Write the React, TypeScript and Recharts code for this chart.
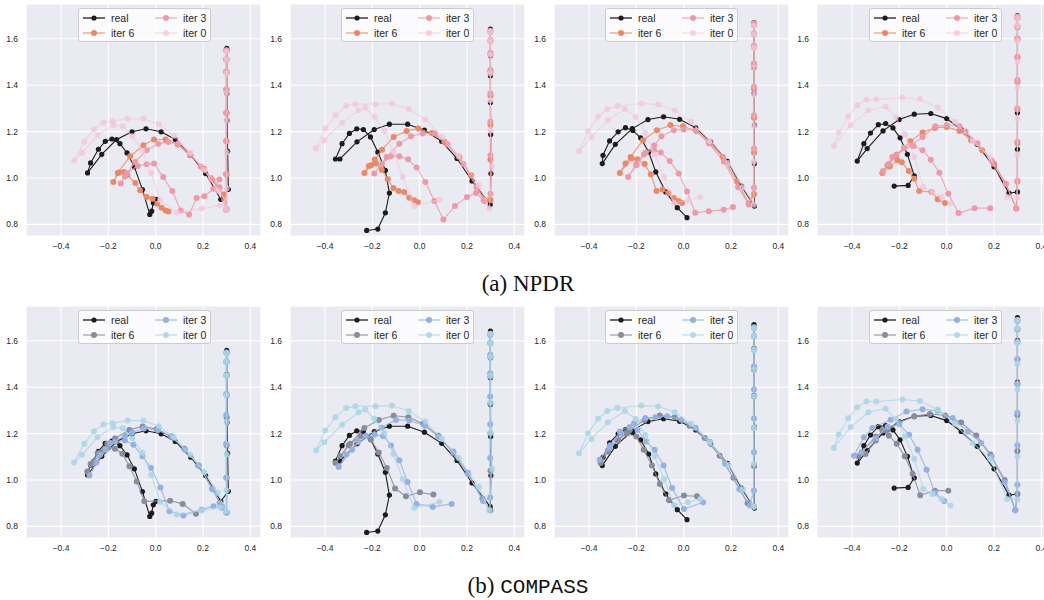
import { CartesianGrid, Scatter, ScatterChart, XAxis, YAxis } from "recharts";

type P = [number, number];

const X_TICKS = [-0.4, -0.2, 0, 0.2, 0.4];
const Y_TICKS = [0.8, 1.0, 1.2, 1.4, 1.6];

// real trajectory, one per column (same in both rows)
const REAL_1: P[] = [
  [0.3, 1.559], [0.3, 1.551], [0.3, 1.511], [0.3, 1.455], [0.301, 1.364], [0.302, 1.249], [0.304, 1.115], [0.307, 0.951],
  [0.275, 0.908], [0.211, 1.019], [0.148, 1.098], [0.083, 1.166], [0.023, 1.199], [-0.041, 1.212], [-0.1, 1.199], [-0.165, 1.166], [-0.228, 1.102], [-0.288, 1.022],
  [-0.275, 1.065], [-0.242, 1.124], [-0.213, 1.158], [-0.185, 1.168], [-0.151, 1.148], [-0.121, 1.108], [-0.09, 1.048], [-0.056, 0.95], [-0.025, 0.843], [-0.017, 0.857], [-0.01, 0.893], [0.001, 0.908],
];
const REAL_2: P[] = [
  [0.299, 1.642], [0.299, 1.63], [0.299, 1.527], [0.299, 1.441], [0.299, 1.325], [0.3, 1.187], [0.301, 1.019], [0.298, 0.885],
  [0.221, 0.987], [0.158, 1.084], [0.093, 1.158], [0.02, 1.206], [-0.051, 1.232], [-0.128, 1.232], [-0.192, 1.209], [-0.265, 1.156], [-0.337, 1.082], [-0.356, 1.082],
  [-0.328, 1.148], [-0.297, 1.192], [-0.266, 1.212], [-0.238, 1.209], [-0.208, 1.177], [-0.177, 1.112], [-0.145, 1.033], [-0.128, 0.935], [-0.145, 0.85], [-0.177, 0.78], [-0.224, 0.774],
];
const REAL_3: P[] = [
  [0.297, 1.67], [0.297, 1.66], [0.297, 1.566], [0.297, 1.475], [0.297, 1.364], [0.299, 1.228], [0.299, 1.062], [0.299, 0.879],
  [0.244, 0.965], [0.185, 1.072], [0.114, 1.156], [0.051, 1.216], [-0.017, 1.253], [-0.085, 1.264], [-0.151, 1.252], [-0.217, 1.213], [-0.289, 1.145], [-0.344, 1.062],
  [-0.341, 1.098], [-0.313, 1.16], [-0.277, 1.199], [-0.246, 1.217], [-0.215, 1.205], [-0.182, 1.173], [-0.148, 1.112], [-0.118, 1.026], [-0.076, 0.94], [-0.027, 0.872], [0.014, 0.829],
];
const REAL_4: P[] = [
  [0.299, 1.7], [0.299, 1.691], [0.299, 1.602], [0.299, 1.52], [0.299, 1.422], [0.299, 1.281], [0.299, 1.124], [0.299, 0.94],
  [0.263, 0.935], [0.2, 1.048], [0.129, 1.145], [0.061, 1.209], [0.0, 1.256], [-0.067, 1.278], [-0.137, 1.275], [-0.201, 1.252], [-0.269, 1.203], [-0.336, 1.127], [-0.378, 1.073],
  [-0.35, 1.148], [-0.322, 1.194], [-0.289, 1.23], [-0.258, 1.235], [-0.227, 1.216], [-0.197, 1.173], [-0.166, 1.102], [-0.137, 1.009], [-0.163, 0.968], [-0.222, 0.965],
];

// iter 0 (initial simulator), shared by both methods
const ITER0_1: P[] = [
  [0.3, 1.545], [0.3, 1.51], [0.3, 1.45], [0.3, 1.365], [0.3, 1.25], [0.3, 1.11], [0.3, 0.955], [0.298, 0.865],
  [0.262, 0.945], [0.205, 1.035], [0.146, 1.109], [0.077, 1.182], [0.013, 1.232], [-0.052, 1.256], [-0.118, 1.256], [-0.182, 1.245], [-0.221, 1.239], [-0.261, 1.21], [-0.302, 1.156], [-0.345, 1.075],
  [-0.311, 1.109], [-0.246, 1.184], [-0.179, 1.228], [-0.139, 1.223], [-0.099, 1.18], [-0.056, 1.117], [-0.019, 1.022], [0.019, 0.905], [0.089, 0.851], [0.195, 0.868], [0.272, 0.882],
];
const ITER0_2: P[] = [
  [0.299, 1.63], [0.299, 1.59], [0.299, 1.53], [0.299, 1.45], [0.299, 1.335], [0.299, 1.205], [0.306, 1.048], [0.294, 0.868],
  [0.25, 0.97], [0.165, 1.095], [0.094, 1.177], [0.024, 1.252], [-0.046, 1.297], [-0.117, 1.321], [-0.187, 1.318], [-0.272, 1.318], [-0.311, 1.31], [-0.356, 1.271], [-0.399, 1.213], [-0.438, 1.127],
  [-0.403, 1.163], [-0.328, 1.238], [-0.258, 1.292], [-0.23, 1.304], [-0.192, 1.264], [-0.149, 1.203], [-0.111, 1.112], [-0.072, 1.004], [-0.023, 0.879], [0.083, 0.906],
];
const ITER0_3: P[] = [
  [0.297, 1.655], [0.297, 1.62], [0.297, 1.56], [0.297, 1.475], [0.297, 1.36], [0.297, 1.225], [0.297, 1.07], [0.297, 0.885],
  [0.25, 0.96], [0.19, 1.065], [0.11, 1.16], [0.032, 1.242], [-0.038, 1.292], [-0.108, 1.317], [-0.179, 1.321], [-0.28, 1.31], [-0.323, 1.297], [-0.362, 1.264], [-0.404, 1.202], [-0.442, 1.115],
  [-0.39, 1.177], [-0.32, 1.249], [-0.249, 1.297], [-0.203, 1.264], [-0.162, 1.194], [-0.123, 1.102], [-0.083, 1.004], [-0.041, 0.892], [0.018, 0.904], [0.07, 0.918],
];
const ITER0_4: P[] = [
  [0.299, 1.69], [0.299, 1.655], [0.299, 1.59], [0.299, 1.5], [0.299, 1.39], [0.299, 1.255], [0.299, 1.1], [0.299, 0.915],
  [0.256, 0.918], [0.184, 1.09], [0.11, 1.16], [0.035, 1.242], [-0.038, 1.304], [-0.113, 1.34], [-0.187, 1.347], [-0.297, 1.338], [-0.339, 1.338], [-0.378, 1.314], [-0.416, 1.266], [-0.456, 1.196], [-0.477, 1.138],
  [-0.406, 1.228], [-0.331, 1.292], [-0.258, 1.307], [-0.215, 1.261], [-0.176, 1.189], [-0.137, 1.091], [-0.099, 0.961], [-0.06, 0.94], [-0.021, 0.918], [0.016, 0.89],
];

// NPDR iterations
const NPDR6_1: P[] = [
  [0.3, 1.55], [0.3, 1.51], [0.3, 1.455], [0.3, 1.38], [0.3, 1.28], [0.3, 1.16], [0.3, 1.015], [0.3, 0.865],
  [0.289, 0.929], [0.239, 0.99], [0.204, 1.04], [0.145, 1.098], [0.093, 1.144], [0.042, 1.166], [-0.007, 1.166], [-0.052, 1.141], [-0.108, 1.094], [-0.16, 1.022], [-0.179, 0.983],
  [-0.155, 1.024], [-0.134, 1.026], [-0.12, 1.014], [-0.086, 0.978], [-0.066, 0.947], [-0.038, 0.918], [-0.013, 0.911], [0.007, 0.889], [0.025, 0.872], [0.042, 0.86], [0.054, 0.856],
];
const NPDR3_1: P[] = [
  [0.297, 1.551], [0.297, 1.511], [0.297, 1.458], [0.297, 1.382], [0.297, 1.281], [0.297, 1.16], [0.297, 1.016], [0.297, 0.863],
  [0.27, 0.96], [0.234, 1.0], [0.19, 1.05], [0.145, 1.105], [0.094, 1.148], [0.054, 1.155], [0.011, 1.148], [-0.038, 1.12], [-0.087, 1.069], [-0.13, 1.007], [-0.148, 0.976],
  [-0.122, 1.02], [-0.076, 1.052], [-0.038, 1.059], [-0.007, 1.062], [0.032, 1.004], [0.07, 0.944], [0.106, 0.86], [0.141, 0.843], [0.173, 0.914], [0.206, 0.921], [0.244, 0.954], [0.269, 0.993],
];
const NPDR6_2: P[] = [
  [0.299, 1.63], [0.299, 1.59], [0.299, 1.535], [0.299, 1.46], [0.299, 1.355], [0.299, 1.23], [0.299, 1.08], [0.299, 0.905],
  [0.273, 0.904], [0.217, 1.012], [0.168, 1.091], [0.104, 1.156], [0.052, 1.194], [-0.006, 1.213], [-0.055, 1.203], [-0.11, 1.177], [-0.159, 1.122], [-0.19, 1.08], [-0.215, 1.052], [-0.234, 1.022],
  [-0.205, 1.055], [-0.185, 1.062], [-0.16, 1.035], [-0.135, 0.995], [-0.111, 0.957], [-0.089, 0.944], [-0.066, 0.94], [-0.044, 0.915], [-0.023, 0.904], [-0.008, 0.896],
];
const NPDR3_2: P[] = [
  [0.299, 1.635], [0.299, 1.595], [0.299, 1.54], [0.299, 1.465], [0.299, 1.364], [0.299, 1.242], [0.299, 1.098], [0.299, 0.932],
  [0.275, 0.9], [0.24, 0.96], [0.185, 1.06], [0.118, 1.145], [0.065, 1.192], [0.013, 1.192], [-0.037, 1.18], [-0.086, 1.148], [-0.14, 1.09], [-0.192, 1.019],
  [-0.16, 1.06], [-0.121, 1.095], [-0.086, 1.094], [-0.049, 1.081], [-0.013, 1.045], [0.024, 0.983], [0.062, 0.901], [0.1, 0.821], [0.149, 0.879], [0.2, 0.918], [0.238, 0.935], [0.27, 0.904],
];
const NPDR6_3: P[] = [
  [0.297, 1.66], [0.297, 1.62], [0.297, 1.565], [0.297, 1.49], [0.297, 1.385], [0.297, 1.26], [0.297, 1.11], [0.297, 0.93],
  [0.275, 0.89], [0.225, 0.985], [0.165, 1.091], [0.11, 1.15], [0.054, 1.203], [-0.003, 1.223], [-0.056, 1.228], [-0.113, 1.206], [-0.172, 1.163], [-0.224, 1.091], [-0.246, 1.062], [-0.27, 1.022],
  [-0.22, 1.085], [-0.196, 1.081], [-0.165, 1.06], [-0.139, 1.016], [-0.115, 0.944], [-0.09, 0.95], [-0.065, 0.935], [-0.042, 0.914], [-0.021, 0.901], [-0.007, 0.892],
];
const NPDR3_3: P[] = [
  [0.297, 1.667], [0.297, 1.623], [0.297, 1.57], [0.297, 1.494], [0.297, 1.393], [0.297, 1.271], [0.297, 1.127], [0.297, 0.958], [0.275, 0.886],
  [0.23, 0.96], [0.17, 1.07], [0.106, 1.151], [0.051, 1.206], [0.0, 1.209], [-0.042, 1.206], [-0.094, 1.18], [-0.125, 1.14], [-0.168, 1.101], [-0.2, 1.062], [-0.235, 1.004],
  [-0.2, 1.055], [-0.16, 1.11], [-0.125, 1.12], [-0.097, 1.11], [-0.059, 1.073], [-0.021, 1.019], [0.014, 0.942], [0.049, 0.85], [0.106, 0.857], [0.169, 0.863], [0.208, 0.875],
];
const NPDR6_4: P[] = [
  [0.299, 1.69], [0.299, 1.65], [0.299, 1.598], [0.299, 1.52], [0.299, 1.415], [0.299, 1.295], [0.299, 1.15], [0.299, 0.985], [0.294, 0.868],
  [0.25, 0.975], [0.2, 1.06], [0.15, 1.12], [0.103, 1.163], [0.054, 1.203], [0.0, 1.22], [-0.05, 1.216], [-0.102, 1.196], [-0.154, 1.158], [-0.215, 1.094], [-0.25, 1.055], [-0.272, 1.022],
  [-0.24, 1.05], [-0.208, 1.076], [-0.19, 1.068], [-0.16, 1.03], [-0.137, 0.997], [-0.116, 0.944], [-0.064, 0.94], [-0.038, 0.908], [-0.007, 0.892],
];
const NPDR3_4: P[] = [
  [0.299, 1.696], [0.299, 1.655], [0.299, 1.602], [0.299, 1.523], [0.299, 1.422], [0.299, 1.3], [0.299, 1.156], [0.299, 0.987], [0.294, 0.868],
  [0.25, 0.975], [0.19, 1.075], [0.13, 1.15], [0.08, 1.2], [0.054, 1.223], [0.0, 1.228], [-0.048, 1.223], [-0.102, 1.177], [-0.15, 1.14], [-0.212, 1.101], [-0.245, 1.06], [-0.269, 1.03],
  [-0.23, 1.09], [-0.18, 1.13], [-0.14, 1.138], [-0.102, 1.12], [-0.067, 1.079], [-0.031, 1.023], [0.007, 0.932], [0.05, 0.849], [0.118, 0.87], [0.184, 0.87],
];

// COMPASS iterations
const COMP6_1: P[] = [
  [0.3, 1.55], [0.3, 1.51], [0.3, 1.45], [0.3, 1.37], [0.3, 1.27], [0.3, 1.15], [0.3, 1.01], [0.3, 0.86],
  [0.279, 0.887], [0.239, 0.963], [0.18, 1.063], [0.121, 1.135], [0.063, 1.188], [0.004, 1.219], [-0.055, 1.231], [-0.111, 1.216], [-0.172, 1.179], [-0.204, 1.156], [-0.245, 1.115], [-0.275, 1.069], [-0.289, 1.037],
  [-0.262, 1.08], [-0.23, 1.12], [-0.2, 1.14], [-0.172, 1.135], [-0.141, 1.113], [-0.111, 1.059], [-0.08, 0.994], [-0.048, 0.908], [0.061, 0.911], [0.114, 0.897], [0.17, 0.855],
];
const COMP3_1: P[] = [
  [0.298, 1.55], [0.298, 1.51], [0.298, 1.45], [0.298, 1.37], [0.298, 1.28], [0.298, 1.155], [0.298, 1.01], [0.298, 0.86],
  [0.27, 0.9], [0.24, 0.96], [0.183, 1.063], [0.124, 1.13], [0.07, 1.188], [0.01, 1.215], [-0.05, 1.222], [-0.1, 1.205], [-0.13, 1.191], [-0.193, 1.159], [-0.235, 1.109], [-0.28, 1.019],
  [-0.25, 1.075], [-0.21, 1.13], [-0.17, 1.165], [-0.13, 1.17], [-0.094, 1.152], [-0.056, 1.102], [-0.02, 1.052], [0.02, 0.968], [0.058, 0.865], [0.117, 0.847], [0.194, 0.872], [0.244, 0.887], [0.28, 0.88],
];
const COMP6_2: P[] = [
  [0.299, 1.63], [0.299, 1.59], [0.299, 1.53], [0.299, 1.445], [0.299, 1.33], [0.299, 1.2], [0.299, 1.04], [0.299, 0.87],
  [0.265, 0.92], [0.203, 1.03], [0.142, 1.116], [0.079, 1.191], [0.015, 1.242], [-0.048, 1.271], [-0.11, 1.277], [-0.173, 1.259], [-0.234, 1.224], [-0.294, 1.156], [-0.356, 1.073],
  [-0.337, 1.102], [-0.3, 1.15], [-0.25, 1.19], [-0.206, 1.173], [-0.173, 1.119], [-0.139, 1.052], [-0.104, 0.963], [-0.058, 0.93], [0.001, 0.947], [0.058, 0.937],
];
const COMP3_2: P[] = [
  [0.298, 1.625], [0.298, 1.59], [0.298, 1.54], [0.298, 1.46], [0.298, 1.36], [0.298, 1.24], [0.298, 1.095], [0.298, 0.925],
  [0.268, 0.91], [0.205, 1.025], [0.142, 1.123], [0.08, 1.185], [0.023, 1.234], [-0.044, 1.257], [-0.1, 1.259], [-0.161, 1.225], [-0.227, 1.191], [-0.286, 1.13], [-0.342, 1.056],
  [-0.31, 1.11], [-0.26, 1.165], [-0.19, 1.195], [-0.155, 1.19], [-0.121, 1.149], [-0.086, 1.085], [-0.051, 0.991], [-0.013, 0.897], [0.055, 0.884], [0.135, 0.897],
];
const COMP6_3: P[] = [
  [0.297, 1.66], [0.297, 1.62], [0.297, 1.565], [0.297, 1.485], [0.297, 1.36], [0.297, 1.225], [0.297, 1.06], [0.297, 0.885],
  [0.27, 0.9], [0.21, 1.01], [0.152, 1.105], [0.089, 1.181], [0.025, 1.234], [-0.038, 1.271], [-0.101, 1.278], [-0.165, 1.259], [-0.228, 1.216], [-0.277, 1.173], [-0.32, 1.123], [-0.351, 1.073],
  [-0.32, 1.125], [-0.28, 1.17], [-0.24, 1.2], [-0.2, 1.188], [-0.169, 1.13], [-0.134, 1.063], [-0.101, 0.983], [-0.062, 0.913], [0.001, 0.933], [0.056, 0.93],
];
const COMP3_3: P[] = [
  [0.297, 1.655], [0.297, 1.62], [0.297, 1.56], [0.297, 1.49], [0.297, 1.39], [0.297, 1.265], [0.297, 1.12], [0.297, 0.955], [0.28, 0.89],
  [0.235, 0.96], [0.175, 1.07], [0.11, 1.165], [0.05, 1.225], [-0.01, 1.26], [-0.07, 1.275], [-0.12, 1.27], [-0.162, 1.267], [-0.21, 1.245], [-0.27, 1.209], [-0.313, 1.138], [-0.355, 1.087],
  [-0.31, 1.15], [-0.265, 1.2], [-0.228, 1.228], [-0.195, 1.215], [-0.158, 1.166], [-0.123, 1.13], [-0.085, 1.063], [-0.049, 0.966], [0.001, 0.875], [0.082, 0.904],
];
const COMP6_4: P[] = [
  [0.299, 1.69], [0.299, 1.65], [0.299, 1.595], [0.299, 1.52], [0.299, 1.415], [0.299, 1.28], [0.299, 1.125], [0.299, 0.94], [0.29, 0.87],
  [0.245, 1.0], [0.185, 1.11], [0.125, 1.192], [0.061, 1.248], [-0.006, 1.278], [-0.071, 1.285], [-0.137, 1.274], [-0.201, 1.248], [-0.25, 1.215], [-0.3, 1.188], [-0.374, 1.102],
  [-0.343, 1.112], [-0.3, 1.17], [-0.272, 1.214], [-0.244, 1.191], [-0.211, 1.156], [-0.177, 1.102], [-0.144, 1.027], [-0.112, 0.934], [-0.05, 0.954], [0.007, 0.954],
];
const COMP3_4: P[] = [
  [0.299, 1.685], [0.299, 1.65], [0.299, 1.595], [0.299, 1.52], [0.299, 1.415], [0.299, 1.29], [0.299, 1.15], [0.299, 0.98], [0.29, 0.87],
  [0.245, 0.99], [0.19, 1.1], [0.145, 1.16], [0.089, 1.209], [0.025, 1.267], [-0.038, 1.298], [-0.102, 1.305], [-0.17, 1.295], [-0.237, 1.26], [-0.314, 1.224], [-0.35, 1.184], [-0.392, 1.105],
  [-0.36, 1.12], [-0.3, 1.18], [-0.25, 1.23], [-0.2, 1.24], [-0.159, 1.195], [-0.123, 1.13], [-0.085, 1.044], [-0.05, 0.944], [-0.01, 0.91],
];

const REAL = [REAL_1, REAL_2, REAL_3, REAL_4];
const ITER0 = [ITER0_1, ITER0_2, ITER0_3, ITER0_4];
const NPDR6 = [NPDR6_1, NPDR6_2, NPDR6_3, NPDR6_4];
const NPDR3 = [NPDR3_1, NPDR3_2, NPDR3_3, NPDR3_4];
const COMP6 = [COMP6_1, COMP6_2, COMP6_3, COMP6_4];
const COMP3 = [COMP3_1, COMP3_2, COMP3_3, COMP3_4];

const PW = 235;
const PH = 232;
const YW = 30;
const XH = 22;
const COL_LEFT = [26, 289.5, 553.5, 817];
const ROW_TOP = [4, 306];

interface Style {
  name: string;
  color: string;
  r: number;
  dotOpacity: number;
  lineOpacity: number;
}

const REAL_STYLE: Style = { name: "real", color: "#1c1c1c", r: 2.6, dotOpacity: 1, lineOpacity: 1 };
const NPDR_STYLES: Style[] = [
  { name: "iter 6", color: "#e8896a", r: 3, dotOpacity: 1, lineOpacity: 0.8 },
  { name: "iter 3", color: "#eb9ba7", r: 3, dotOpacity: 1, lineOpacity: 0.8 },
  { name: "iter 0", color: "#f3c6da", r: 3, dotOpacity: 0.75, lineOpacity: 0.6 },
];
const COMP_STYLES: Style[] = [
  { name: "iter 6", color: "#878d9e", r: 3, dotOpacity: 1, lineOpacity: 0.8 },
  { name: "iter 3", color: "#96b0e2", r: 3, dotOpacity: 1, lineOpacity: 0.8 },
  { name: "iter 0", color: "#a9d6e5", r: 3, dotOpacity: 0.85, lineOpacity: 0.75 },
];

const fmt = (v: number) => v.toFixed(1).replace("-", "\u2212");
const toXY = (pts: P[]) => pts.map(([x, y]) => ({ x, y }));

function Handle({ s, x, y }: { s: Style; x: number; y: number }) {
  return (
    <g>
      <line x1={x} x2={x + 22} y1={y} y2={y} stroke={s.color} strokeOpacity={s.lineOpacity} strokeWidth={1.3} />
      <circle cx={x + 11} cy={y} r={s.r} fill={s.color} fillOpacity={s.dotOpacity} />
    </g>
  );
}

function PanelLegend({ styles }: { styles: Style[] }) {
  const cells = [
    { s: styles[0], x: 4, y: 9 },
    { s: styles[1], x: 4, y: 24 },
    { s: styles[2], x: 76, y: 9 },
    { s: styles[3], x: 76, y: 24 },
  ];
  return (
    <div
      style={{
        position: "absolute",
        left: YW + 51.5,
        top: 3.5,
        width: 131,
        height: 32,
        background: "rgba(255,255,255,0.8)",
        border: "1px solid #cccccc",
        borderRadius: 3,
      }}
    >
      <svg width={131} height={32} style={{ position: "absolute", left: 0, top: 0 }}>
        {cells.map((c) => (
          <g key={c.s.name}>
            <Handle s={c.s} x={c.x} y={c.y} />
            <text x={c.x + 28} y={c.y + 3.7} fontSize={10.5} fill="#262626" fontFamily="Liberation Sans, Arial, sans-serif">
              {c.s.name}
            </text>
          </g>
        ))}
      </svg>
    </div>
  );
}

function Panel({ left, top, series, styles }: { left: number; top: number; series: P[][]; styles: Style[] }) {
  return (
    <div style={{ position: "absolute", left: left - YW, top }}>
      <ScatterChart width={YW + PW} height={PH + XH} margin={{ top: 0, right: 0, bottom: 0, left: 0 }}>
        <CartesianGrid fill="#eaeaf2" stroke="#ffffff" strokeWidth={1.1} />
        <XAxis
          type="number"
          dataKey="x"
          domain={[-0.548, 0.445]}
          ticks={X_TICKS}
          tickFormatter={fmt}
          axisLine={false}
          tickLine={false}
          tickSize={4}
          tickMargin={2.5}
          height={XH}
          tick={{ fontSize: 8.5, fill: "#262626", fontFamily: "Liberation Sans, Arial, sans-serif" }}
        />
        <YAxis
          type="number"
          dataKey="y"
          domain={[0.75, 1.75]}
          ticks={Y_TICKS}
          tickFormatter={fmt}
          axisLine={false}
          tickLine={false}
          tickSize={4}
          tickMargin={4}
          width={YW}
          tick={{ fontSize: 8.5, fill: "#262626", fontFamily: "Liberation Sans, Arial, sans-serif" }}
        />
        {series.map((pts, i) => {
          const s = styles[i];
          return (
            <Scatter
              key={s.name}
              name={s.name}
              data={toXY(pts)}
              fill={s.color}
              line={{ stroke: s.color, strokeWidth: i === 0 ? 1.1 : 1.2, strokeOpacity: s.lineOpacity }}
              lineType="joint"
              shape={(p: any) => <circle cx={p.cx} cy={p.cy} r={s.r} fill={s.color} fillOpacity={s.dotOpacity} />}
              isAnimationActive={false}
            />
          );
        })}
      </ScatterChart>
      <PanelLegend styles={styles} />
    </div>
  );
}

export default function App() {
  const npdrStyles = [REAL_STYLE, ...NPDR_STYLES];
  const compStyles = [REAL_STYLE, ...COMP_STYLES];
  return (
    <div
      style={{
        position: "absolute",
        left: 0,
        top: 0,
        width: 1044,
        height: 600,
        overflow: "hidden",
        background: "#ffffff",
      }}
    >
      {COL_LEFT.map((l, c) => (
        <Panel key={"a" + c} left={l} top={ROW_TOP[0]} series={[REAL[c], NPDR6[c], NPDR3[c], ITER0[c]]} styles={npdrStyles} />
      ))}
      {COL_LEFT.map((l, c) => (
        <Panel key={"b" + c} left={l} top={ROW_TOP[1]} series={[REAL[c], COMP6[c], COMP3[c], ITER0[c]]} styles={compStyles} />
      ))}
      <div
        style={{
          position: "absolute",
          left: 12,
          top: 271.5,
          width: 1032,
          textAlign: "center",
          fontFamily: "Liberation Serif, Times New Roman, serif",
          fontSize: 23,
          lineHeight: "23px",
          color: "#111",
        }}
      >
        (a) NPDR
      </div>
      <div
        style={{
          position: "absolute",
          left: 12,
          top: 573.5,
          width: 1032,
          textAlign: "center",
          fontFamily: "Liberation Serif, Times New Roman, serif",
          fontSize: 23,
          lineHeight: "23px",
          color: "#111",
        }}
      >
        (b) <span style={{ fontFamily: "Liberation Mono, DejaVu Sans Mono, monospace", fontSize: 21 }}>COMPASS</span>
      </div>
    </div>
  );
}
